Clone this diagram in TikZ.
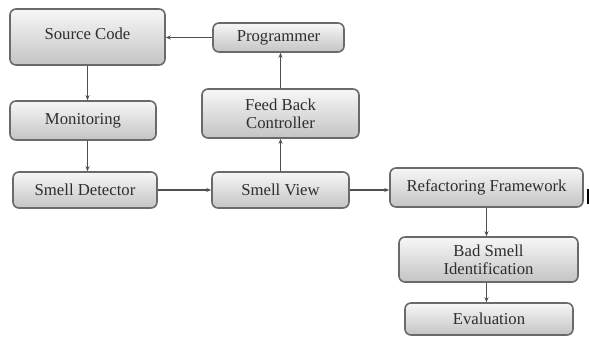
\documentclass[tikz,border=0pt]{standalone}
\usepackage{fontspec}
\setmainfont{Liberation Serif}
\newfontfamily\boxfont{Liberation Serif}
\usetikzlibrary{arrows.meta}
\definecolor{boxline}{HTML}{6A6A6A}
\definecolor{boxtop}{HTML}{F7F7F7}
\definecolor{boxbot}{HTML}{C4C4C4}
\definecolor{txt}{HTML}{2E2E2E}
\definecolor{arrline}{HTML}{505050}
\tikzset{
  box/.style={draw=boxline, line width=1.6bp, rounded corners=6bp,
    top color=boxtop, bottom color=boxbot, inner sep=0pt,
    text=txt, align=center, font=\boxfont\fontsize{16.7bp}{18bp}\selectfont},
  arr/.style={draw=arrline, line width=1.1bp, -{Stealth[length=5bp,width=4bp]}}
}
\begin{document}
\begin{tikzpicture}[x=1bp,y=-1bp]
\useasboundingbox (0,0) rectangle (589,350);
\node[box, minimum width=155bp, minimum height=56bp] (src) at (87.5,37) {\raisebox{6bp}{Source Code}};
\node[box, minimum width=131bp, minimum height=29bp] (prog) at (278.5,37.5) {Programmer};
\node[box, minimum width=146bp, minimum height=39bp] (mon) at (83,120.5) {Monitoring};
\node[box, minimum width=157bp, minimum height=49bp] (fb) at (280.5,113.5) {Feed Back\\Controller};
\node[box, minimum width=144bp, minimum height=36bp] (sd) at (85,190) {Smell Detector};
\node[box, minimum width=137bp, minimum height=36bp] (sv) at (280.5,190) {Smell View};
\node[box, minimum width=193bp, minimum height=39bp] (rf) at (486.5,187.5) {\raisebox{3bp}{Refactoring Framework}};
\node[box, minimum width=179bp, minimum height=45bp] (bs) at (488.5,259.5) {Bad Smell\\Identification};
\node[box, minimum width=168bp, minimum height=32bp] (ev) at (489,319) {Evaluation};
\fill[black] (587,189) rectangle (589,204);
\draw[arr] (prog.west) -- (src.east |- prog.west);
\draw[arr] (src.south) -- (src.south |- mon.north);
\draw[arr] (mon.south -| src.south) -- (src.south |- sd.north);
\draw[arr] (sd.east) -- (sv.west);
\draw[arr] (sv.north) -- (sv.north |- fb.south);
\draw[arr] (fb.north) -- (fb.north |- prog.south);
\draw[arr] (sv.east) -- (rf.west |- sv.east);
\draw[arr] (rf.south) -- (rf.south |- bs.north);
\draw[arr] (bs.south -| rf.south) -- (rf.south |- ev.north);
\end{tikzpicture}
\end{document}
